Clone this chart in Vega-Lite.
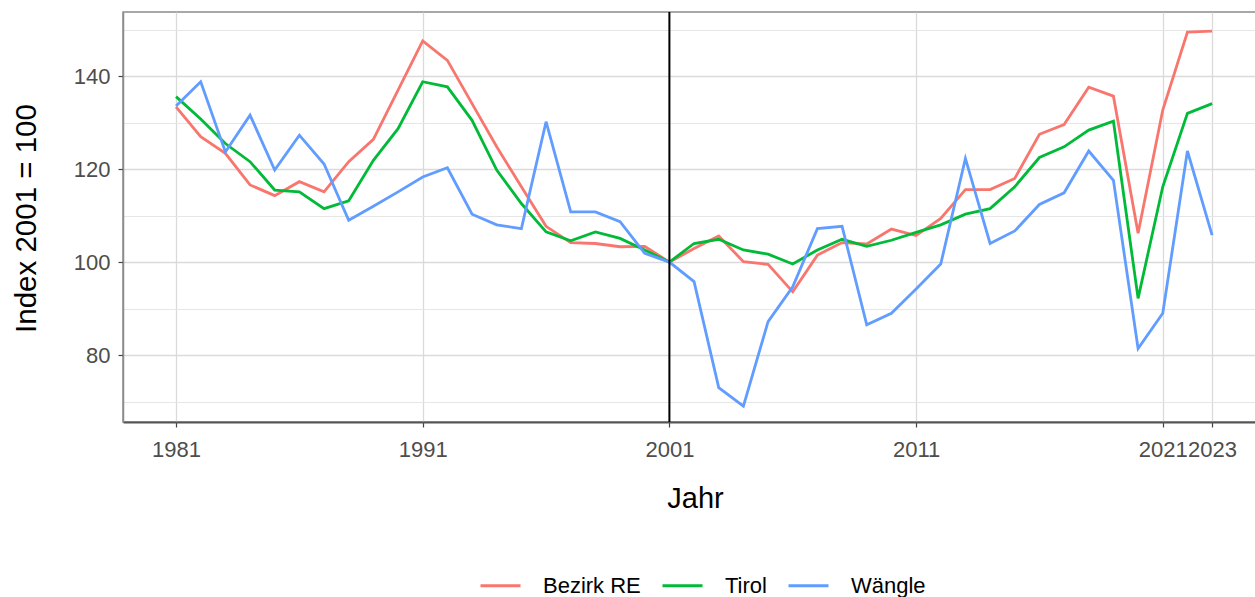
{
  "$schema": "https://vega.github.io/schema/vega-lite/v6.json",
  "width": 1133,
  "height": 410,
  "autosize": {"type": "none"},
  "padding": {"left": 123, "top": 12, "right": 0, "bottom": 175},
  "background": "white",
  "config": {
    "font": "Liberation Sans",
    "view": {"stroke": "#8c8c8c", "strokeWidth": 1.5},
    "axis": {"labelFont": "Liberation Sans", "titleFont": "Liberation Sans"}
  },
  "data": {"values": [
    {"Jahr":1981,"Region":"Bezirk RE","Index":133.4},{"Jahr":1982,"Region":"Bezirk RE","Index":127.0},{"Jahr":1983,"Region":"Bezirk RE","Index":123.4},{"Jahr":1984,"Region":"Bezirk RE","Index":116.6},{"Jahr":1985,"Region":"Bezirk RE","Index":114.3},{"Jahr":1986,"Region":"Bezirk RE","Index":117.3},{"Jahr":1987,"Region":"Bezirk RE","Index":115.1},{"Jahr":1988,"Region":"Bezirk RE","Index":121.6},{"Jahr":1989,"Region":"Bezirk RE","Index":126.4},{"Jahr":1990,"Region":"Bezirk RE","Index":137.0},
    {"Jahr":1991,"Region":"Bezirk RE","Index":147.6},{"Jahr":1992,"Region":"Bezirk RE","Index":143.4},{"Jahr":1993,"Region":"Bezirk RE","Index":134.1},{"Jahr":1994,"Region":"Bezirk RE","Index":124.8},{"Jahr":1995,"Region":"Bezirk RE","Index":116.2},{"Jahr":1996,"Region":"Bezirk RE","Index":107.7},{"Jahr":1997,"Region":"Bezirk RE","Index":104.2},{"Jahr":1998,"Region":"Bezirk RE","Index":104.0},{"Jahr":1999,"Region":"Bezirk RE","Index":103.3},{"Jahr":2000,"Region":"Bezirk RE","Index":103.4},
    {"Jahr":2001,"Region":"Bezirk RE","Index":100.0},{"Jahr":2002,"Region":"Bezirk RE","Index":102.9},{"Jahr":2003,"Region":"Bezirk RE","Index":105.6},{"Jahr":2004,"Region":"Bezirk RE","Index":100.1},{"Jahr":2005,"Region":"Bezirk RE","Index":99.5},{"Jahr":2006,"Region":"Bezirk RE","Index":93.6},{"Jahr":2007,"Region":"Bezirk RE","Index":101.5},{"Jahr":2008,"Region":"Bezirk RE","Index":104.2},{"Jahr":2009,"Region":"Bezirk RE","Index":103.9},{"Jahr":2010,"Region":"Bezirk RE","Index":107.1},
    {"Jahr":2011,"Region":"Bezirk RE","Index":105.7},{"Jahr":2012,"Region":"Bezirk RE","Index":109.4},{"Jahr":2013,"Region":"Bezirk RE","Index":115.6},{"Jahr":2014,"Region":"Bezirk RE","Index":115.6},{"Jahr":2015,"Region":"Bezirk RE","Index":118.0},{"Jahr":2016,"Region":"Bezirk RE","Index":127.5},{"Jahr":2017,"Region":"Bezirk RE","Index":129.6},{"Jahr":2018,"Region":"Bezirk RE","Index":137.6},{"Jahr":2019,"Region":"Bezirk RE","Index":135.7},{"Jahr":2020,"Region":"Bezirk RE","Index":106.2},
    {"Jahr":2021,"Region":"Bezirk RE","Index":132.7},{"Jahr":2022,"Region":"Bezirk RE","Index":149.5},{"Jahr":2023,"Region":"Bezirk RE","Index":149.7},
    {"Jahr":1981,"Region":"Tirol","Index":135.6},{"Jahr":1982,"Region":"Tirol","Index":130.8},{"Jahr":1983,"Region":"Tirol","Index":125.5},{"Jahr":1984,"Region":"Tirol","Index":121.6},{"Jahr":1985,"Region":"Tirol","Index":115.5},{"Jahr":1986,"Region":"Tirol","Index":115.1},{"Jahr":1987,"Region":"Tirol","Index":111.5},{"Jahr":1988,"Region":"Tirol","Index":113.2},{"Jahr":1989,"Region":"Tirol","Index":121.9},{"Jahr":1990,"Region":"Tirol","Index":128.7},
    {"Jahr":1991,"Region":"Tirol","Index":138.8},{"Jahr":1992,"Region":"Tirol","Index":137.7},{"Jahr":1993,"Region":"Tirol","Index":130.5},{"Jahr":1994,"Region":"Tirol","Index":119.8},{"Jahr":1995,"Region":"Tirol","Index":112.6},{"Jahr":1996,"Region":"Tirol","Index":106.5},{"Jahr":1997,"Region":"Tirol","Index":104.6},{"Jahr":1998,"Region":"Tirol","Index":106.5},{"Jahr":1999,"Region":"Tirol","Index":105.1},{"Jahr":2000,"Region":"Tirol","Index":102.6},
    {"Jahr":2001,"Region":"Tirol","Index":100.0},{"Jahr":2002,"Region":"Tirol","Index":104.0},{"Jahr":2003,"Region":"Tirol","Index":104.9},{"Jahr":2004,"Region":"Tirol","Index":102.6},{"Jahr":2005,"Region":"Tirol","Index":101.7},{"Jahr":2006,"Region":"Tirol","Index":99.6},{"Jahr":2007,"Region":"Tirol","Index":102.6},{"Jahr":2008,"Region":"Tirol","Index":104.9},{"Jahr":2009,"Region":"Tirol","Index":103.4},{"Jahr":2010,"Region":"Tirol","Index":104.7},
    {"Jahr":2011,"Region":"Tirol","Index":106.4},{"Jahr":2012,"Region":"Tirol","Index":108.0},{"Jahr":2013,"Region":"Tirol","Index":110.3},{"Jahr":2014,"Region":"Tirol","Index":111.5},{"Jahr":2015,"Region":"Tirol","Index":116.2},{"Jahr":2016,"Region":"Tirol","Index":122.5},{"Jahr":2017,"Region":"Tirol","Index":124.8},{"Jahr":2018,"Region":"Tirol","Index":128.4},{"Jahr":2019,"Region":"Tirol","Index":130.3},{"Jahr":2020,"Region":"Tirol","Index":92.2},
    {"Jahr":2021,"Region":"Tirol","Index":116.2},{"Jahr":2022,"Region":"Tirol","Index":132.0},{"Jahr":2023,"Region":"Tirol","Index":134.1},
    {"Jahr":1981,"Region":"Wängle","Index":133.6},{"Jahr":1982,"Region":"Wängle","Index":138.8},{"Jahr":1983,"Region":"Wängle","Index":123.7},{"Jahr":1984,"Region":"Wängle","Index":131.6},{"Jahr":1985,"Region":"Wängle","Index":119.8},{"Jahr":1986,"Region":"Wängle","Index":127.3},{"Jahr":1987,"Region":"Wängle","Index":121.1},{"Jahr":1988,"Region":"Wängle","Index":109.0},{"Jahr":1989,"Region":"Wängle","Index":112.0},{"Jahr":1990,"Region":"Wängle","Index":115.1},
    {"Jahr":1991,"Region":"Wängle","Index":118.3},{"Jahr":1992,"Region":"Wängle","Index":120.3},{"Jahr":1993,"Region":"Wängle","Index":110.3},{"Jahr":1994,"Region":"Wängle","Index":108.0},{"Jahr":1995,"Region":"Wängle","Index":107.2},{"Jahr":1996,"Region":"Wängle","Index":130.2},{"Jahr":1997,"Region":"Wängle","Index":110.8},{"Jahr":1998,"Region":"Wängle","Index":110.8},{"Jahr":1999,"Region":"Wängle","Index":108.7},{"Jahr":2000,"Region":"Wängle","Index":101.9},
    {"Jahr":2001,"Region":"Wängle","Index":100.0},{"Jahr":2002,"Region":"Wängle","Index":95.8},{"Jahr":2003,"Region":"Wängle","Index":73.0},{"Jahr":2004,"Region":"Wängle","Index":69.0},{"Jahr":2005,"Region":"Wängle","Index":87.2},{"Jahr":2006,"Region":"Wängle","Index":94.7},{"Jahr":2007,"Region":"Wängle","Index":107.2},{"Jahr":2008,"Region":"Wängle","Index":107.7},{"Jahr":2009,"Region":"Wängle","Index":86.5},{"Jahr":2010,"Region":"Wängle","Index":89.0},
    {"Jahr":2011,"Region":"Wängle","Index":94.2},{"Jahr":2012,"Region":"Wängle","Index":99.6},{"Jahr":2013,"Region":"Wängle","Index":122.3},{"Jahr":2014,"Region":"Wängle","Index":104.0},{"Jahr":2015,"Region":"Wängle","Index":106.7},{"Jahr":2016,"Region":"Wängle","Index":112.4},{"Jahr":2017,"Region":"Wängle","Index":114.9},{"Jahr":2018,"Region":"Wängle","Index":123.9},{"Jahr":2019,"Region":"Wängle","Index":117.6},{"Jahr":2020,"Region":"Wängle","Index":81.4},
    {"Jahr":2021,"Region":"Wängle","Index":89.0},{"Jahr":2022,"Region":"Wängle","Index":123.9},{"Jahr":2023,"Region":"Wängle","Index":105.8}
  ]},
  "layer": [
    {
      "mark": {"type": "line", "strokeWidth": 2.8, "clip": true},
      "encoding": {
        "x": {
          "field": "Jahr", "type": "quantitative",
          "scale": {"domain": [1978.85, 2024.78], "nice": false, "zero": false},
          "axis": {
            "values": [1981, 1991, 2001, 2011, 2021, 2023],
            "format": "d",
            "title": "Jahr",
            "titleFontSize": 29, "titleFontWeight": "normal", "titleColor": "#000000",
            "titleX": 572, "titleY": 85, "titleBaseline": "alphabetic", "titleAnchor": null, "titleAlign": "center",
            "labelFontSize": 22, "labelColor": "#4D4D4D", "labelBaseline": "alphabetic", "labelPadding": 29,
            "labelOverlap": false, "labelFlush": false,
            "tickSize": 5, "tickColor": "#444444", "tickWidth": 1.2,
            "domainColor": "#555555", "domainWidth": 2.2,
            "grid": true, "gridColor": "#DADADA", "gridWidth": 1.3
          }
        },
        "y": {
          "field": "Index", "type": "quantitative",
          "scale": {"domain": [65.6, 153.8], "nice": false, "zero": false},
          "axis": {
            "values": [70, 80, 90, 100, 110, 120, 130, 140, 150],
            "labelExpr": "datum.value % 20 == 0 ? datum.label : ''",
            "title": "Index 2001 = 100",
            "titleFontSize": 29.5, "titleFontWeight": "normal", "titleColor": "#000000",
            "titleX": -88, "titleY": 206, "titleBaseline": "alphabetic", "titleAngle": -90, "titleAlign": "center",
            "labelFontSize": 22, "labelColor": "#4D4D4D", "labelPadding": 8,
            "tickSize": 5, "tickColor": "#444444", "tickWidth": 1.2,
            "tickOpacity": {"condition": {"test": "datum.value % 20 == 0", "value": 1}, "value": 0},
            "domainColor": "#8c8c8c", "domainWidth": 1.5,
            "grid": true,
            "gridColor": {"condition": {"test": "datum.value % 20 == 0", "value": "#DADADA"}, "value": "#E6E6E6"},
            "gridWidth": {"condition": {"test": "datum.value % 20 == 0", "value": 1.3}, "value": 1.0}
          }
        },
        "color": {
          "field": "Region", "type": "nominal",
          "scale": {"domain": ["Bezirk RE", "Tirol", "Wängle"], "range": ["#F8766D", "#00BA38", "#619CFF"]},
          "legend": {
            "title": null,
            "orient": "none", "direction": "horizontal",
            "legendX": 356, "legendY": 552,
            "symbolType": "stroke", "symbolSize": 1600, "symbolStrokeWidth": 3,
            "labelFontSize": 22, "labelColor": "#000000", "labelOffset": 21,
            "columnPadding": 15
          }
        },
        "order": {"field": "Jahr", "type": "quantitative"}
      }
    },
    {
      "data": {"values": [{"Jahr": 2001}]},
      "mark": {"type": "rule", "color": "#000000", "strokeWidth": 2},
      "encoding": {
        "x": {"field": "Jahr", "type": "quantitative"}
      }
    }
  ]
}
